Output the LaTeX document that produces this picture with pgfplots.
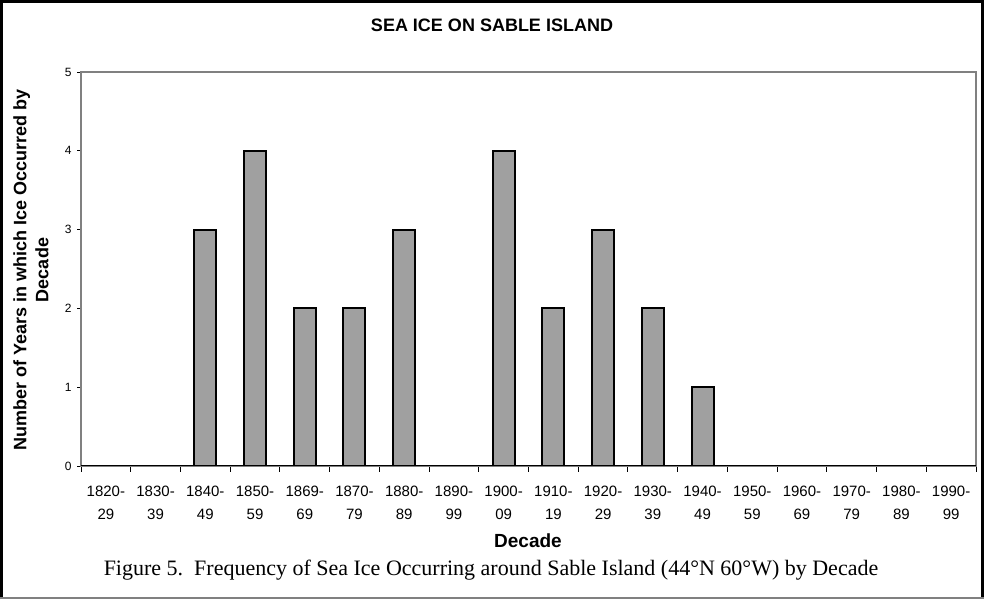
\documentclass[border=0pt]{standalone}
\usepackage{fontspec}
\setmainfont{Liberation Serif}
\newfontfamily\arial{Liberation Sans}
\usepackage{pgfplots}
\pgfplotsset{compat=1.18}
\definecolor{barfill}{HTML}{A0A0A0}
\definecolor{framegray}{HTML}{808080}

\begin{document}
\begin{tikzpicture}
\useasboundingbox (0,0) rectangle (984pt,599pt);
% outer frame
\draw[black, line width=3pt] (1.5pt,0) -- (1.5pt,597.5pt) -- (982.5pt,597.5pt) -- (982.5pt,0);
\draw[framegray, line width=1.5pt] (0,1pt) -- (984pt,1pt);

\begin{axis}[
    at={(81pt,133pt)}, anchor=south west,
    width=895pt, height=394pt, scale only axis,
    xmin=-0.5, xmax=17.5,
    ymin=0, ymax=5,
    ytick={0,1,2,3,4,5},
    xtick={0,...,17},
    xticklabels={{1820-\\29},{1830-\\39},{1840-\\49},{1850-\\59},{1869-\\69},{1870-\\79},{1880-\\89},{1890-\\99},{1900-\\09},{1910-\\19},{1920-\\29},{1930-\\39},{1940-\\49},{1950-\\59},{1960-\\69},{1970-\\79},{1980-\\89},{1990-\\99}},
    minor xtick={-0.5,0.5,...,17.5},
    major x tick style={draw=none},
    minor x tick style={black, line width=1pt},
    minor tick length=6pt,
    y tick style={black, line width=0.8pt},
    major tick length=4pt,
    tick align=outside,
    tick pos=left,
    axis line style={framegray, line width=1.6pt},
    /pgf/number format/assume math mode=true,
    xticklabel style={font=\arial\fontsize{15}{23}\selectfont, align=center, yshift=-12pt},
    yticklabel style={font=\arial\fontsize{12}{13}\selectfont, xshift=-2pt},
  ]
  \addplot[ybar, bar width=22pt, fill=barfill, draw=black, line width=2pt]
    coordinates {
    (0,0) (1,0) (2,3) (3,4) (4,2) (5,2) (6,3) (7,0) (8,4)
    (9,2) (10,3) (11,2) (12,1) (13,0) (14,0) (15,0) (16,0) (17,0)
  };
  \draw[black, line width=1.6pt] (rel axis cs:0,0) -- (rel axis cs:1,0);
\end{axis}

\node[font=\arial\bfseries\fontsize{18}{20}\selectfont] at (492pt,574pt) {SEA ICE ON SABLE ISLAND};
\node[font=\arial\bfseries\fontsize{18}{22}\selectfont, rotate=90, align=center] at (31pt,329pt)
  {Number of Years in which Ice Occurred by\\Decade};
\node[font=\arial\bfseries\fontsize{19}{20}\selectfont] at (528pt,58pt) {Decade};
\node[font=\fontsize{22}{24}\selectfont] at (491pt,29pt)
  {Figure 5.\ \ Frequency of Sea Ice Occurring around Sable Island (44°N 60°W) by Decade};
\end{tikzpicture}
\end{document}
